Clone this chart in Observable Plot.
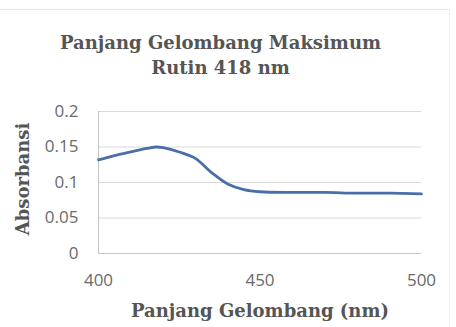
<!DOCTYPE html>
<html>
<head>
<meta charset="utf-8">
<script src="https://cdn.jsdelivr.net/npm/d3@7"></script>
<script src="https://cdn.jsdelivr.net/npm/@observablehq/plot@0.6"></script>
<style>
  html, body { margin: 0; padding: 0; background: #ffffff; }
  #wrap { position: relative; width: 456px; height: 327px; overflow: hidden; background: #fff; }
  #frame { position: absolute; left: -2px; top: 9px; width: 451px; height: 330px; border-top: 1px solid #e6e6e6; border-right: 1px solid #efefef; }
  .serif { position: absolute; font-family: "DejaVu Serif", "Liberation Serif", serif; font-weight: bold; color: #555555; white-space: nowrap; }
  #t1 { left: 0; width: 441px; top: 32px; text-align: center; font-size: 18px; }
  #t2 { left: 0; width: 441px; top: 57px; text-align: center; font-size: 18px; }
  #xl { left: 0; width: 520px; top: 300px; text-align: center; font-size: 18px; }
  #yl { left: 22px; top: 179px; font-size: 18px; transform: translate(-50%, -50%) rotate(-90deg); }
  #plot { position: absolute; left: 0; top: 0; }
</style>
</head>
<body>
<div id="wrap">
  <div id="frame"></div>
  <div id="plot"></div>
  <div class="serif" id="t1">Panjang Gelombang Maksimum</div>
  <div class="serif" id="t2">Rutin 418 nm</div>
  <div class="serif" id="xl">Panjang Gelombang (nm)</div>
  <div class="serif" id="yl">Absorbansi</div>
</div>
<script>
const wavelength = [400, 405, 410, 415, 418, 420, 425, 430, 435, 440, 445, 450, 460, 470, 480, 490, 500];
const absorbance = [0.132, 0.138, 0.143, 0.148, 0.150, 0.149, 0.143, 0.134, 0.114, 0.098, 0.090, 0.087, 0.086, 0.086, 0.085, 0.085, 0.084];
const xTicks = [400, 450, 500];
const yTicks = [0, 0.05, 0.1, 0.15, 0.2];

const data = wavelength.map((w, i) => ({w, a: absorbance[i]}));

const chart = Plot.plot({
  width: 456,
  height: 327,
  marginTop: 111,
  marginBottom: 74,
  marginLeft: 98,
  marginRight: 35,
  style: {background: "transparent", fontFamily: "'Open Sans', sans-serif"},
  x: {domain: [400, 500]},
  y: {domain: [0, 0.2]},
  marks: [
    Plot.gridY(yTicks, {stroke: "#d9d9d9", strokeOpacity: 1, strokeWidth: 1}),
    Plot.ruleY([0], {stroke: "#c8c8c8", strokeWidth: 1.2}),
    Plot.ruleX([400], {stroke: "#c8c8c8", strokeWidth: 1.2}),
    Plot.axisX(xTicks, {tickSize: 0, tickPadding: 20, fontSize: 17, fill: "#6a6a6a", label: null, tickFormat: d => String(d)}),
    Plot.axisY(yTicks, {tickSize: 0, tickPadding: 20, fontSize: 17, fill: "#6a6a6a", label: null, tickFormat: d => String(d)}),
    Plot.line(data, {x: "w", y: "a", stroke: "#4a6ea8", strokeWidth: 2.8, curve: "catmull-rom"})
  ]
});
document.getElementById("plot").appendChild(chart);
</script>
</body>
</html>
